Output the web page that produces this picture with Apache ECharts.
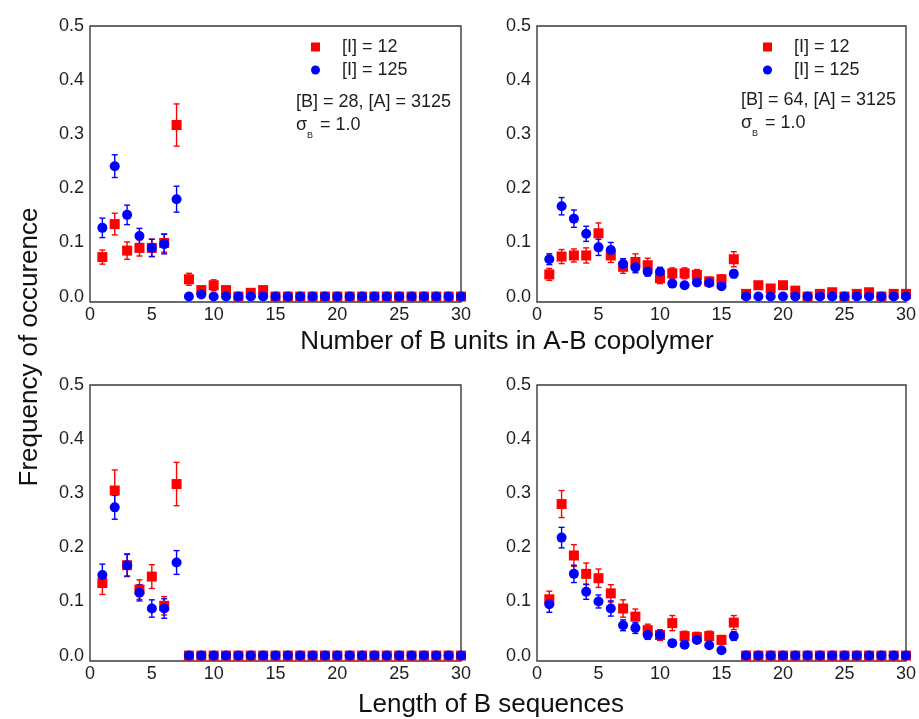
<!DOCTYPE html>
<html>
<head>
<meta charset="utf-8">
<script src="https://cdn.jsdelivr.net/npm/echarts@6/dist/echarts.min.js"></script>
<style>
  html, body { margin: 0; padding: 0; background: #ffffff; }
  #chart { width: 919px; height: 719px; }
</style>
</head>
<body>
<div id="chart"></div>
<script>
// Sequence / unit lengths on the x axis
const lengths = [1, 2, 3, 4, 5, 6, 7, 8, 9, 10, 11, 12, 13, 14, 15,
                 16, 17, 18, 19, 20, 21, 22, 23, 24, 25, 26, 27, 28, 29, 30];
const xTicks = [0, 5, 10, 15, 20, 25, 30];
const yTicks = [0, 0.1, 0.2, 0.3, 0.4, 0.5];

// Number of B units, [B] = 28
const unitsB28_I12     = [0.073, 0.134, 0.085, 0.090, 0.090, 0.099, 0.317, 0.032, 0.012, 0.021, 0.012, 0, 0.007, 0.012, 0, 0, 0, 0, 0, 0, 0, 0, 0, 0, 0, 0, 0, 0, 0, 0];
const unitsB28_I12Err  = [0.013, 0.020, 0.016, 0.015, 0.016, 0.017, 0.039, 0.011, 0.006, 0.010, 0.006, 0, 0.005, 0.006, 0, 0, 0, 0, 0, 0, 0, 0, 0, 0, 0, 0, 0, 0, 0, 0];
const unitsB28_I125    = [0.127, 0.241, 0.151, 0.112, 0.090, 0.097, 0.180, 0, 0.004, 0, 0, 0, 0, 0, 0, 0, 0, 0, 0, 0, 0, 0, 0, 0, 0, 0, 0, 0, 0, 0];
const unitsB28_I125Err = [0.018, 0.021, 0.018, 0.014, 0.016, 0.018, 0.024, 0, 0.003, 0, 0, 0, 0, 0, 0, 0, 0, 0, 0, 0, 0, 0, 0, 0, 0, 0, 0, 0, 0, 0];

// Number of B units, [B] = 64
const unitsB64_I12     = [0.041, 0.074, 0.076, 0.076, 0.117, 0.076, 0.055, 0.064, 0.058, 0.034, 0.043, 0.043, 0.040, 0.028, 0.032, 0.069, 0.005, 0.021, 0.015, 0.021, 0.011, 0, 0.005, 0.008, 0, 0.005, 0.008, 0, 0.005, 0.005];
const unitsB64_I12Err  = [0.011, 0.013, 0.012, 0.014, 0.019, 0.013, 0.012, 0.015, 0.013, 0.010, 0.010, 0.010, 0.010, 0.008, 0.008, 0.014, 0.003, 0.005, 0.005, 0.005, 0.004, 0, 0.003, 0.003, 0, 0.003, 0.003, 0, 0.003, 0.003];
const unitsB64_I125    = [0.069, 0.167, 0.144, 0.116, 0.091, 0.086, 0.060, 0.054, 0.046, 0.046, 0.024, 0.021, 0.026, 0.025, 0.019, 0.042, 0, 0, 0, 0, 0, 0, 0, 0, 0, 0, 0, 0, 0, 0];
const unitsB64_I125Err = [0.010, 0.016, 0.016, 0.014, 0.015, 0.014, 0.010, 0.010, 0.008, 0.008, 0.006, 0.005, 0.006, 0.006, 0.005, 0.007, 0, 0, 0, 0, 0, 0, 0, 0, 0, 0, 0, 0, 0, 0];

// Length of B sequences, [B] = 28
const seqB28_I12     = [0.134, 0.305, 0.167, 0.122, 0.146, 0.092, 0.317, 0, 0, 0, 0, 0, 0, 0, 0, 0, 0, 0, 0, 0, 0, 0, 0, 0, 0, 0, 0, 0, 0, 0];
const seqB28_I12Err  = [0.021, 0.038, 0.021, 0.018, 0.022, 0.017, 0.040, 0, 0, 0, 0, 0, 0, 0, 0, 0, 0, 0, 0, 0, 0, 0, 0, 0, 0, 0, 0, 0, 0, 0];
const seqB28_I125    = [0.149, 0.274, 0.167, 0.116, 0.087, 0.087, 0.172, 0, 0, 0, 0, 0, 0, 0, 0, 0, 0, 0, 0, 0, 0, 0, 0, 0, 0, 0, 0, 0, 0, 0];
const seqB28_I125Err = [0.020, 0.022, 0.020, 0.015, 0.016, 0.018, 0.022, 0, 0, 0, 0, 0, 0, 0, 0, 0, 0, 0, 0, 0, 0, 0, 0, 0, 0, 0, 0, 0, 0, 0];

// Length of B sequences, [B] = 64
const seqB64_I12     = [0.104, 0.280, 0.185, 0.151, 0.143, 0.115, 0.087, 0.072, 0.047, 0.038, 0.060, 0.036, 0.034, 0.036, 0.029, 0.061, 0, 0, 0, 0, 0, 0, 0, 0, 0, 0, 0, 0, 0, 0];
const seqB64_I12Err  = [0.015, 0.025, 0.020, 0.020, 0.017, 0.016, 0.016, 0.014, 0.011, 0.010, 0.014, 0.009, 0.009, 0.009, 0.008, 0.013, 0, 0, 0, 0, 0, 0, 0, 0, 0, 0, 0, 0, 0, 0];
const seqB64_I125    = [0.095, 0.218, 0.151, 0.118, 0.100, 0.087, 0.056, 0.051, 0.038, 0.038, 0.023, 0.020, 0.029, 0.019, 0.010, 0.036, 0, 0, 0, 0, 0, 0, 0, 0, 0, 0, 0, 0, 0, 0];
const seqB64_I125Err = [0.015, 0.019, 0.016, 0.014, 0.012, 0.014, 0.010, 0.010, 0.008, 0.008, 0.006, 0.006, 0.006, 0.005, 0.005, 0.008, 0, 0, 0, 0, 0, 0, 0, 0, 0, 0, 0, 0, 0, 0];

const nameI12 = '[I] = 12';
const nameI125 = '[I] = 125';
const RED = '#ff0000';
const BLUE = '#0000ff';
const FONT = '"Liberation Sans", Arial, sans-serif';
const TEXT = '#1e1e1e';

const panels = [
  { grid: { left: 90,  top: 26,  width: 371, height: 276 }, v12: unitsB28_I12, e12: unitsB28_I12Err, v125: unitsB28_I125, e125: unitsB28_I125Err },
  { grid: { left: 537, top: 26,  width: 371, height: 276 }, v12: unitsB64_I12, e12: unitsB64_I12Err, v125: unitsB64_I125, e125: unitsB64_I125Err },
  { grid: { left: 90,  top: 385, width: 371, height: 276 }, v12: seqB28_I12,   e12: seqB28_I12Err,   v125: seqB28_I125,   e125: seqB28_I125Err },
  { grid: { left: 537, top: 385, width: 371, height: 276 }, v12: seqB64_I12,   e12: seqB64_I12Err,   v125: seqB64_I125,   e125: seqB64_I125Err }
];

// Vertical error bar with small caps, positioned through the axes
function renderErrorBar(params, api) {
  const x = api.value(0);
  const top = api.coord([x, api.value(2)]);
  const bot = api.coord([x, api.value(1)]);
  const cap = 3;
  const style = { stroke: api.visual('color'), lineWidth: 1.4 };
  return {
    type: 'group',
    children: [
      { type: 'line', shape: { x1: top[0], y1: top[1], x2: bot[0], y2: bot[1] }, style: style },
      { type: 'line', shape: { x1: top[0] - cap, y1: top[1], x2: top[0] + cap, y2: top[1] }, style: style },
      { type: 'line', shape: { x1: bot[0] - cap, y1: bot[1], x2: bot[0] + cap, y2: bot[1] }, style: style }
    ]
  };
}

function errorData(vals, errs) {
  const out = [];
  lengths.forEach((x, i) => {
    if (errs[i] > 0) out.push([x, vals[i] - errs[i], vals[i] + errs[i]]);
  });
  return out;
}

function pointData(vals) {
  return lengths.map((x, i) => [x, vals[i]]);
}

const grids = [], xAxes = [], yAxes = [], series = [];
panels.forEach((p, k) => {
  grids.push(Object.assign({ show: true, borderColor: '#3a3a3a', borderWidth: 1.4, backgroundColor: 'transparent' }, p.grid));
  xAxes.push({
    type: 'value', gridIndex: k, min: 0, max: 30, interval: 5,
    axisLine: { show: false }, axisTick: { show: false }, splitLine: { show: false },
    axisLabel: { fontSize: 18, color: TEXT, fontFamily: FONT, margin: 4, showMinLabel: true, showMaxLabel: true }
  });
  yAxes.push({
    type: 'value', gridIndex: k, min: -0.01, max: 0.5,
    axisLine: { show: false }, axisTick: { show: false }, splitLine: { show: false },
    axisLabel: {
      fontSize: 18, color: TEXT, fontFamily: FONT, margin: 6,
      customValues: yTicks,
      formatter: v => v.toFixed(1)
    }
  });
  const groups = [
    { name: nameI12, vals: p.v12, errs: p.e12, color: RED, symbol: 'rect', size: 10 },
    { name: nameI125, vals: p.v125, errs: p.e125, color: BLUE, symbol: 'circle', size: 10 }
  ];
  groups.forEach(g => {
    series.push({
      type: 'custom', name: g.name, xAxisIndex: k, yAxisIndex: k,
      renderItem: renderErrorBar, itemStyle: { color: g.color },
      encode: { x: 0, y: [1, 2] }, data: errorData(g.vals, g.errs), clip: false, silent: true
    });
    series.push({
      type: 'scatter', name: g.name, xAxisIndex: k, yAxisIndex: k,
      symbol: g.symbol, symbolSize: g.size,
      itemStyle: { color: g.color, opacity: 1 },
      data: pointData(g.vals), clip: false
    });
  });
});

function legendAt(left) {
  return {
    orient: 'vertical', left: left, top: 38, padding: 0,
    itemWidth: 9, itemHeight: 9, itemGap: 5,
    data: [{ name: nameI12, icon: 'rect' }, { name: nameI125, icon: 'circle' }],
    textStyle: { fontSize: 18, color: TEXT, fontFamily: FONT, lineHeight: 18, padding: [0, 0, 0, 17] },
    selectedMode: false
  };
}

function note(x, y, text, size) {
  return {
    type: 'text', x: x, y: y, silent: true,
    style: { text: text, fontSize: size, fill: TEXT, fontFamily: FONT, align: 'left', verticalAlign: 'middle' }
  };
}

function conditions(x, y, label) {
  return [
    note(x, y, label, 18),
    note(x, y + 23, 'σ', 18),
    note(x + 11, y + 34, 'B', 9),
    note(x + 24, y + 23, '= 1.0', 18)
  ];
}

function title(x, y, text, rotation) {
  return {
    type: 'text', x: x, y: y, rotation: rotation || 0, silent: true,
    style: { text: text, fontSize: 26, fill: '#111', fontFamily: FONT, align: 'center', verticalAlign: 'middle' }
  };
}

const graphics = [].concat(
  conditions(296, 102, '[B] = 28, [A] = 3125'),
  conditions(741, 100, '[B] = 64, [A] = 3125'),
  [
    title(507, 342, 'Number of B units in A-B copolymer'),
    title(491, 705, 'Length of B sequences'),
    title(30, 347, 'Frequency of occurence', Math.PI / 2)
  ]
);

const chart = echarts.init(document.getElementById('chart'), null, { renderer: 'canvas' });
chart.setOption({
  animation: false,
  backgroundColor: '#ffffff',
  grid: grids,
  xAxis: xAxes,
  yAxis: yAxes,
  legend: [legendAt(311), legendAt(763)],
  series: series,
  graphic: graphics
});
</script>
</body>
</html>
